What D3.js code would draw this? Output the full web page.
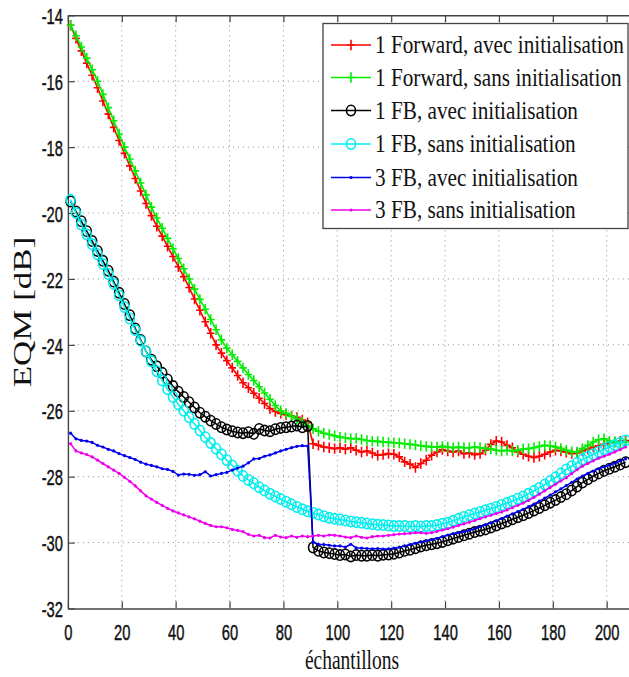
<!DOCTYPE html>
<html><head><meta charset="utf-8">
<script src="https://cdn.jsdelivr.net/npm/d3@7"></script>
<style>body{margin:0;background:#fff}svg{display:block}</style>
</head><body>
<svg id="c" width="629" height="677"></svg>
<script>
const samples = [1,3,5,7,9,11,13,15,17,19,21,23,25,27,29,31,33,35,37,39,41,43,45,47,49,51,53,55,57,59,61,63,65,67,69,71,73,75,77,79,81,83,85,87,89,91,93,95,97,99,101,103,105,107,109,111,113,115,117,119,121,123,125,127,129,131,133,135,137,139,141,143,145,147,149,151,153,155,157,159,161,163,165,167,169,171,173,175,177,179,181,183,185,187,189,191,193,195,197,199,201,203,205,207];

const fwdAvec = [-14.30,-14.70,-15.08,-15.45,-15.82,-16.20,-16.60,-17.00,-17.40,-17.80,
-18.19,-18.57,-18.95,-19.33,-19.71,-20.08,-20.40,-20.70,-21.01,-21.32,
-21.63,-21.93,-22.26,-22.61,-22.95,-23.30,-23.65,-24.00,-24.25,-24.48,
-24.70,-24.93,-25.15,-25.30,-25.47,-25.62,-25.78,-25.93,-26.02,-26.08,
-26.12,-26.16,-26.20,-26.28,-26.36,-27.00,-27.05,-27.10,-27.12,-27.15,
-27.12,-27.17,-27.12,-27.20,-27.25,-27.22,-27.28,-27.35,-27.33,-27.30,
-27.32,-27.40,-27.55,-27.62,-27.72,-27.60,-27.50,-27.35,-27.25,-27.18,
-27.22,-27.25,-27.22,-27.30,-27.28,-27.33,-27.30,-27.20,-27.02,-26.92,
-26.95,-27.05,-27.12,-27.25,-27.32,-27.38,-27.42,-27.38,-27.32,-27.25,
-27.20,-27.22,-27.26,-27.30,-27.28,-27.22,-27.16,-27.10,-27.06,-27.02,
-26.98,-26.95,-26.92,-26.90];

const fwdSans = [-14.30,-14.62,-14.96,-15.30,-15.65,-16.00,-16.40,-16.80,-17.20,-17.60,
-18.00,-18.36,-18.72,-19.09,-19.45,-19.82,-20.15,-20.46,-20.77,-21.08,
-21.38,-21.69,-22.00,-22.31,-22.62,-22.92,-23.23,-23.54,-23.85,-24.10,
-24.30,-24.50,-24.70,-24.90,-25.08,-25.27,-25.46,-25.65,-25.84,-26.00,
-26.08,-26.17,-26.25,-26.35,-26.45,-26.55,-26.62,-26.68,-26.72,-26.76,
-26.80,-26.82,-26.85,-26.84,-26.87,-26.90,-26.92,-26.93,-26.95,-26.96,
-26.97,-26.98,-27.00,-27.02,-27.04,-27.06,-27.08,-27.10,-27.10,-27.08,
-27.10,-27.12,-27.10,-27.12,-27.12,-27.10,-27.12,-27.14,-27.16,-27.20,
-27.22,-27.20,-27.22,-27.20,-27.16,-27.15,-27.12,-27.08,-27.05,-27.06,
-27.10,-27.14,-27.20,-27.24,-27.25,-27.15,-27.05,-26.95,-26.88,-26.85,
-26.92,-26.95,-26.96,-26.95];

const fbAvec = [-19.65,-19.95,-20.25,-20.55,-20.85,-21.15,-21.45,-21.75,-22.08,-22.42,
-22.76,-23.10,-23.50,-23.85,-24.20,-24.45,-24.65,-24.85,-25.05,-25.25,
-25.42,-25.58,-25.74,-25.90,-26.06,-26.18,-26.30,-26.40,-26.50,-26.57,
-26.62,-26.66,-26.68,-26.65,-26.70,-26.55,-26.60,-26.62,-26.56,-26.52,
-26.50,-26.48,-26.45,-26.50,-26.46,-30.15,-30.25,-30.30,-30.32,-30.35,
-30.38,-30.36,-30.42,-30.38,-30.40,-30.40,-30.38,-30.40,-30.37,-30.36,
-30.34,-30.30,-30.25,-30.22,-30.17,-30.12,-30.08,-30.05,-30.02,-29.98,
-29.93,-29.88,-29.83,-29.78,-29.73,-29.68,-29.64,-29.60,-29.54,-29.48,
-29.42,-29.36,-29.29,-29.23,-29.17,-29.10,-29.03,-28.95,-28.87,-28.79,
-28.71,-28.62,-28.53,-28.42,-28.30,-28.18,-28.08,-27.98,-27.90,-27.82,
-27.76,-27.70,-27.63,-27.56];

const fbSans = [-19.60,-20.00,-20.35,-20.65,-20.95,-21.25,-21.55,-21.85,-22.15,-22.50,
-22.85,-23.20,-23.55,-23.88,-24.20,-24.50,-24.80,-25.08,-25.35,-25.58,
-25.80,-26.00,-26.20,-26.40,-26.60,-26.80,-26.98,-27.15,-27.32,-27.50,
-27.66,-27.82,-27.98,-28.10,-28.20,-28.32,-28.42,-28.52,-28.60,-28.68,
-28.76,-28.84,-28.92,-28.99,-29.05,-29.10,-29.15,-29.20,-29.25,-29.28,
-29.30,-29.33,-29.36,-29.38,-29.40,-29.42,-29.44,-29.46,-29.47,-29.48,
-29.50,-29.50,-29.50,-29.52,-29.50,-29.52,-29.50,-29.50,-29.47,-29.43,
-29.40,-29.34,-29.28,-29.22,-29.17,-29.12,-29.07,-29.02,-28.97,-28.92,
-28.86,-28.80,-28.74,-28.67,-28.60,-28.52,-28.43,-28.34,-28.24,-28.13,
-28.02,-27.90,-27.78,-27.68,-27.58,-27.48,-27.40,-27.32,-27.24,-27.17,
-27.10,-27.04,-26.97,-26.90];

const fb3Avec = [-26.68,-26.85,-26.90,-26.92,-26.96,-27.05,-27.10,-27.17,-27.22,-27.30,
-27.36,-27.42,-27.48,-27.56,-27.62,-27.66,-27.70,-27.76,-27.78,-27.84,
-27.95,-27.92,-27.93,-27.96,-27.94,-27.85,-27.98,-27.94,-27.90,-27.87,
-27.80,-27.74,-27.68,-27.58,-27.46,-27.45,-27.38,-27.34,-27.28,-27.22,
-27.17,-27.12,-27.08,-27.06,-27.07,-29.98,-30.05,-30.06,-30.08,-30.10,
-30.10,-30.14,-30.05,-30.16,-30.17,-30.18,-30.19,-30.18,-30.20,-30.19,
-30.17,-30.14,-30.10,-30.06,-30.02,-29.98,-29.95,-29.91,-29.87,-29.82,
-29.77,-29.73,-29.70,-29.67,-29.63,-29.58,-29.52,-29.46,-29.40,-29.34,
-29.27,-29.20,-29.13,-29.06,-28.99,-28.91,-28.83,-28.74,-28.65,-28.56,
-28.46,-28.37,-28.27,-28.17,-28.07,-27.98,-27.90,-27.83,-27.76,-27.70,
-27.65,-27.59,-27.52,-27.46];

const fb3Sans = [-27.00,-27.22,-27.28,-27.33,-27.40,-27.50,-27.60,-27.70,-27.80,-27.90,
-28.02,-28.14,-28.28,-28.43,-28.58,-28.68,-28.78,-28.87,-28.96,-29.04,
-29.10,-29.16,-29.22,-29.28,-29.35,-29.42,-29.48,-29.52,-29.52,-29.55,
-29.60,-29.63,-29.67,-29.75,-29.80,-29.78,-29.85,-29.86,-29.78,-29.83,
-29.85,-29.80,-29.84,-29.80,-29.82,-29.80,-29.78,-29.80,-29.77,-29.78,
-29.80,-29.83,-29.85,-29.80,-29.84,-29.86,-29.82,-29.80,-29.80,-29.78,
-29.76,-29.74,-29.73,-29.72,-29.70,-29.70,-29.72,-29.70,-29.66,-29.62,
-29.58,-29.53,-29.48,-29.43,-29.38,-29.33,-29.27,-29.22,-29.17,-29.12,
-29.07,-29.01,-28.94,-28.87,-28.80,-28.72,-28.63,-28.53,-28.43,-28.33,
-28.23,-28.13,-28.03,-27.91,-27.79,-27.68,-27.60,-27.52,-27.44,-27.38,
-27.32,-27.25,-27.18,-27.10];

const seriesNames = ["1 Forward, avec initialisation","1 Forward, sans initialisation","1 FB, avec initialisation","1 FB, sans initialisation","3 FB, avec initialisation","3 FB, sans initialisation"];
const seriesValues = [fwdAvec, fwdSans, fbAvec, fbSans, fb3Avec, fb3Sans];
const seriesColors = ["#ff0000","#00ee00","#000000","#00eeee","#0000ee","#ee00ee"];
const seriesMarkers = ["plus","plus","circle","circle","dot","dot"];
const xTicks = [0,20,40,60,80,100,120,140,160,180,200];
const yTicks = [-14,-16,-18,-20,-22,-24,-26,-28,-30,-32];
const xTitle = "échantillons";
const yTitle = "EQM [dB]";

const svg = d3.select("#c");
const x = d3.scaleLinear().domain([0, 208.5]).range([67.9, 629.6]);
const y = d3.scaleLinear().domain([-32, -14]).range([608.5, 15.3]);
const [x0, x1] = x.range();
const [yb, yt] = y.range();

// grid
const grid = svg.append("g").attr("stroke", "#8a8a8a").attr("stroke-width", 1).attr("stroke-dasharray", "1,4");
grid.selectAll("line.v").data(xTicks.filter(d => d > 0)).join("line")
  .attr("x1", d => x(d)).attr("x2", d => x(d)).attr("y1", yt).attr("y2", yb);
grid.selectAll("line.h").data(yTicks.filter(d => d > -32 && d < -14)).join("line")
  .attr("x1", x0).attr("x2", x1).attr("y1", d => y(d)).attr("y2", d => y(d));

// axes (labels drawn narrow: small horizontal font size, stretched vertically)
const tickFont = "'Liberation Sans', Arial, sans-serif";
const tickFs = 14.7, tickSy = 1.56;
const gx = svg.append("g").attr("transform", `translate(0,${yb})`)
  .call(d3.axisBottom(x).tickValues(xTicks).tickSizeInner(-7).tickSizeOuter(0).tickFormat(d3.format("d")));
const gxt = svg.append("g").attr("transform", `translate(0,${yt})`)
  .call(d3.axisTop(x).tickValues(xTicks).tickSizeInner(-7).tickSizeOuter(0).tickFormat(""));
const gy = svg.append("g").attr("transform", `translate(${x0},0)`)
  .call(d3.axisLeft(y).tickValues(yTicks).tickSizeInner(-7).tickSizeOuter(0).tickFormat(d => d3.format("d")(d).replace("−","-")));
[gx, gxt, gy].forEach(g => {
  g.selectAll("path.domain").attr("stroke", "#444").attr("stroke-width", 1.4);
  g.selectAll(".tick line").attr("stroke", "#444").attr("stroke-width", 1.2);
  g.selectAll("text").attr("font-family", tickFont).attr("font-size", tickFs).attr("fill", "#111")
    .attr("stroke", "#111").attr("stroke-width", 0.3).attr("x", 0).attr("y", 0).attr("dy", null);
});
gx.selectAll("text").attr("text-anchor", "middle").attr("transform", `translate(0,31.5) scale(1,${tickSy})`);
gy.selectAll("text").attr("text-anchor", "end").attr("transform", `translate(-5,8.2) scale(1,${tickSy})`);

// axis titles
const serif = "'Liberation Serif', 'Times New Roman', serif";
svg.append("text").attr("transform", "translate(352,669) scale(1,1.4)").attr("text-anchor", "middle")
  .attr("font-family", serif).attr("font-size", 19.5).attr("fill", "#111").text(xTitle);
svg.append("text").attr("transform", "translate(31,312) rotate(-90) scale(1.4,1)").attr("text-anchor", "middle")
  .attr("font-family", serif).attr("font-size", 25).attr("fill", "#111").text(yTitle);

// markers
function drawMarker(sel, type, color) {
  if (type === "plus") {
    sel.append("path").attr("d", "M-3.8,0H3.8M0,-5.2V5.2").attr("stroke", color).attr("stroke-width", 1.6).attr("fill", "none");
  } else if (type === "circle") {
    sel.append("ellipse").attr("rx", 4.5).attr("ry", 5.2).attr("stroke", color).attr("stroke-width", 1.6).attr("fill", "none");
  } else {
    sel.append("circle").attr("r", 1.6).attr("fill", color);
  }
}

const line = d3.line().x((d, i) => x(samples[i])).y(d => y(d));
const plot = svg.append("g");
seriesValues.forEach((vals, s) => {
  const g = plot.append("g");
  g.append("path").datum(vals).attr("d", line).attr("fill", "none")
    .attr("stroke", seriesColors[s]).attr("stroke-width", s < 2 ? 1.6 : 1.5);
  const m = g.selectAll("g.m").data(vals).join("g")
    .attr("transform", (d, i) => `translate(${x(samples[i])},${y(d)})`);
  m.each(function(){ drawMarker(d3.select(this), seriesMarkers[s], seriesColors[s]); });
});

// legend
const leg = svg.append("g");
leg.append("rect").attr("x", 323).attr("y", 23.5).attr("width", 305).attr("height", 205)
  .attr("fill", "#fff").attr("stroke", "#444").attr("stroke-width", 1.3);
const rowY = [45, 77.5, 110.5, 144, 177.5, 210];
seriesNames.forEach((name, s) => {
  const r = leg.append("g").attr("transform", `translate(0,${rowY[s]})`);
  r.append("line").attr("x1", 331).attr("x2", 371).attr("y1", 0).attr("y2", 0)
    .attr("stroke", seriesColors[s]).attr("stroke-width", 1.6);
  drawMarker(r.append("g").attr("transform", "translate(351,0)"), seriesMarkers[s], seriesColors[s]);
  r.append("text").attr("transform", "translate(375,8.2) scale(1,1.176)")
    .attr("font-family", serif).attr("font-size", 21.25).attr("fill", "#111").text(name);
});
</script>
</body></html>
